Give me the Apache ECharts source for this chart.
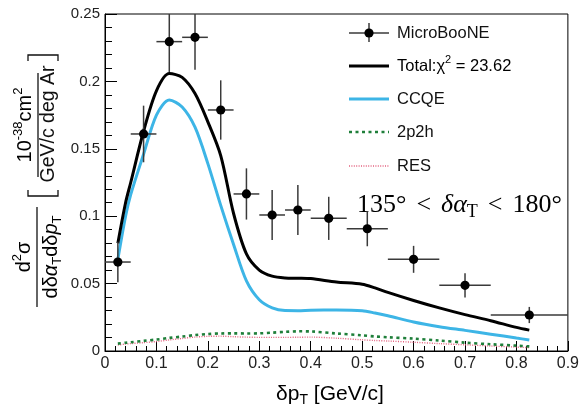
<!DOCTYPE html>
<html>
<head>
<meta charset="utf-8">
<script src="https://cdn.jsdelivr.net/npm/echarts@6/dist/echarts.min.js"></script>
<style>
html, body { margin: 0; padding: 0; background: #fff; }
#chart { width: 582px; height: 410px; }
</style>
</head>
<body>
<div id="chart"></div>
<script>
// MicroBooNE measurement: bin centre, half bin width, cross section, uncertainty
const dataX    = [0.025, 0.075, 0.125, 0.175, 0.225, 0.275, 0.325, 0.375, 0.435, 0.51, 0.60, 0.70, 0.825];
const dataXErr = [0.025, 0.025, 0.025, 0.025, 0.025, 0.025, 0.025, 0.025, 0.035, 0.04, 0.05, 0.05, 0.075];
const dataY    = [0.066, 0.161, 0.2295, 0.2327, 0.1788, 0.1165, 0.1009, 0.1046, 0.0984, 0.0907, 0.068, 0.0487, 0.0267];
const dataYErr = [0.015, 0.021, 0.0225, 0.024, 0.022, 0.019, 0.0185, 0.0185, 0.016, 0.013, 0.010, 0.009, 0.006];

// Model predictions sampled in dpT
const curveX = [0.025, 0.04, 0.05, 0.075, 0.1, 0.125, 0.15, 0.175, 0.2, 0.225, 0.25, 0.275, 0.3, 0.325, 0.35, 0.375, 0.4, 0.45, 0.5, 0.525, 0.55, 0.6, 0.65, 0.7, 0.75, 0.8, 0.825];
const totalY = [0.080, 0.110, 0.125, 0.163, 0.193, 0.2058, 0.203, 0.191, 0.170, 0.145, 0.102, 0.072, 0.060, 0.0555, 0.0542, 0.054, 0.0537, 0.0512, 0.0495, 0.0468, 0.0435, 0.0375, 0.032, 0.027, 0.0225, 0.0175, 0.0155];
const ccqeY  = [0.068, 0.100, 0.116, 0.146, 0.175, 0.1862, 0.181, 0.166, 0.139, 0.108, 0.079, 0.052, 0.038, 0.032, 0.0300, 0.0299, 0.0302, 0.0304, 0.0299, 0.0282, 0.0262, 0.0215, 0.018, 0.0153, 0.0125, 0.0096, 0.0082];
const mecY   = [0.0055, 0.0061, 0.0065, 0.0075, 0.0085, 0.0097, 0.0107, 0.0118, 0.0126, 0.013, 0.0131, 0.013, 0.0131, 0.0136, 0.0142, 0.0146, 0.0145, 0.013, 0.0116, 0.0108, 0.0102, 0.0092, 0.0078, 0.0062, 0.005, 0.004, 0.0034];
const resY   = [0.0045, 0.0051, 0.0055, 0.0062, 0.007, 0.0082, 0.0093, 0.0103, 0.0109, 0.011, 0.0106, 0.0103, 0.0101, 0.0101, 0.0101, 0.0102, 0.0103, 0.0095, 0.0083, 0.0078, 0.0074, 0.0065, 0.0055, 0.0046, 0.0037, 0.0029, 0.0025];

// Axis tick labels
const xTickLabels = ['0', '0.1', '0.2', '0.3', '0.4', '0.5', '0.6', '0.7', '0.8', '0.9'];
const yTickLabels = ['0', '0.05', '0.1', '0.15', '0.2', '0.25'];

// Legend entries
const legendNames = ['MicroBooNE', 'Total', 'CCQE', '2p2h', 'RES'];
const chi2 = '23.62';

const SANS = '"Liberation Sans", Arial, Helvetica, sans-serif';
const SERIF = '"Liberation Serif", "Times New Roman", serif';
const BLUE = '#3db5e6';
const GREEN = '#1f7f3a';
const PINK = '#e3617f';

const chart = echarts.init(document.getElementById('chart'), null, { renderer: 'canvas' });

const pointData = dataX.map((x, i) => [x, dataY[i], dataXErr[i], dataYErr[i]]);
const pairs = ys => curveX.map((x, i) => [x, ys[i]]);

// Data point with horizontal (bin width) and vertical (uncertainty) bars
function renderPoint(params, api) {
  const x = api.value(0), y = api.value(1), ex = api.value(2), ey = api.value(3);
  const c = api.coord([x, y]);
  const l = api.coord([x - ex, y]);
  const r = api.coord([x + ex, y]);
  const t = api.coord([x, y + ey]);
  const b = api.coord([x, y - ey]);
  const barStyle = { stroke: '#3a3a3a', lineWidth: 1.5 };
  return {
    type: 'group',
    children: [
      { type: 'line', shape: { x1: l[0], y1: l[1], x2: r[0], y2: r[1] }, style: barStyle },
      { type: 'line', shape: { x1: t[0], y1: t[1], x2: b[0], y2: b[1] }, style: barStyle },
      { type: 'circle', shape: { cx: c[0], cy: c[1], r: 4.6 }, style: { fill: '#000' } }
    ]
  };
}

const mainRich = (size) => ({
  n: { fontSize: size, lineHeight: size + 6, fontFamily: SANS, color: '#111' },
  i: { fontSize: size, lineHeight: size + 6, fontFamily: SANS, fontStyle: 'italic', color: '#111' },
  sup: { fontSize: Math.round(size * 0.65), lineHeight: Math.round(size * 0.65), verticalAlign: 'top', fontFamily: SANS, color: '#111' },
  sub: { fontSize: Math.round(size * 0.65), lineHeight: Math.round(size * 0.65), verticalAlign: 'bottom', fontFamily: SANS, color: '#111' }
});

// Legend drawn as graphic items
const legendX0 = 349, legendX1 = 389, legendTextX = 397;
const legendRows = [33, 66, 99, 132, 166];
const LEG_FONT = '16.5px ' + SANS;
const legendGraphics = [
  { type: 'line', shape: { x1: legendX0, y1: legendRows[0], x2: legendX1, y2: legendRows[0] }, style: { stroke: '#3a3a3a', lineWidth: 1.5 } },
  { type: 'line', shape: { x1: 369, y1: legendRows[0] - 10, x2: 369, y2: legendRows[0] + 9 }, style: { stroke: '#3a3a3a', lineWidth: 1.5 } },
  { type: 'circle', shape: { cx: 369, cy: legendRows[0], r: 4.6 }, style: { fill: '#000' } },
  { type: 'line', shape: { x1: legendX0, y1: legendRows[1], x2: legendX1, y2: legendRows[1] }, style: { stroke: '#000', lineWidth: 3 } },
  { type: 'line', shape: { x1: legendX0, y1: legendRows[2], x2: legendX1, y2: legendRows[2] }, style: { stroke: BLUE, lineWidth: 3 } },
  { type: 'line', shape: { x1: legendX0, y1: legendRows[3], x2: legendX1, y2: legendRows[3] }, style: { stroke: GREEN, lineWidth: 2.6, lineDash: [3, 3.5] } },
  { type: 'line', shape: { x1: legendX0, y1: legendRows[4], x2: legendX1, y2: legendRows[4] }, style: { stroke: PINK, lineWidth: 1.4, lineDash: [1, 1.4] } },
  { type: 'text', x: legendTextX, y: legendRows[0], style: { text: legendNames[0], font: LEG_FONT, fill: '#111', verticalAlign: 'middle' } },
  { type: 'text', x: legendTextX, y: legendRows[1], style: { text: '{n|' + legendNames[1] + ':χ}{sup|2}{n| = ' + chi2 + '}', rich: mainRich(16.5), verticalAlign: 'middle' } },
  { type: 'text', x: legendTextX, y: legendRows[2], style: { text: legendNames[2], font: LEG_FONT, fill: '#111', verticalAlign: 'middle' } },
  { type: 'text', x: legendTextX, y: legendRows[3], style: { text: legendNames[3], font: LEG_FONT, fill: '#111', verticalAlign: 'middle' } },
  { type: 'text', x: legendTextX, y: legendRows[4], style: { text: legendNames[4], font: LEG_FONT, fill: '#111', verticalAlign: 'middle' } }
];

// Y axis title: fraction d2sigma / (d dalphaT d dpT) and unit bracket, read bottom to top
const ROT = Math.PI / 2;
const yTitleGraphics = [
  { type: 'text', x: 24, y: 257, rotation: ROT, style: { text: '{n|d}{sup|2}{n|σ}', rich: mainRich(20), align: 'center', verticalAlign: 'middle' } },
  { type: 'line', shape: { x1: 37, y1: 207, x2: 37, y2: 307 }, style: { stroke: '#111', lineWidth: 1.3 } },
  { type: 'text', x: 51, y: 257, rotation: ROT, style: { text: '{n|dδ}{i|α}{sub|T}{n|dδ}{i|p}{sub|T}', rich: mainRich(20), align: 'center', verticalAlign: 'middle' } },
  { type: 'polyline', shape: { points: [[28, 190], [28, 196], [58, 196], [58, 190]] }, style: { stroke: '#111', lineWidth: 1.3, fill: null } },
  { type: 'polyline', shape: { points: [[28, 61], [28, 55], [58, 55], [58, 61]] }, style: { stroke: '#111', lineWidth: 1.3, fill: null } },
  { type: 'text', x: 25, y: 125, rotation: ROT, style: { text: '{n|10}{sup|-38}{n|cm}{sup|2}', rich: mainRich(20), align: 'center', verticalAlign: 'middle' } },
  { type: 'line', shape: { x1: 38, y1: 73, x2: 38, y2: 177 }, style: { stroke: '#111', lineWidth: 1.3 } },
  { type: 'text', x: 49, y: 124, rotation: ROT, style: { text: 'GeV/c deg Ar', font: '19.5px ' + SANS, fill: '#111', align: 'center', verticalAlign: 'middle' } }
];

// X axis title and angular region annotation
const otherGraphics = [
  { type: 'text', x: 330, y: 394, style: { text: '{n|δp}{sub|T}{n| [GeV/c]}', rich: mainRich(21), align: 'center', verticalAlign: 'middle' } },
  { type: 'text', x: 357, y: 205, style: {
      text: '{a|135°}{o|<}{i|δα}{s|T}{o|<}{a|180°}',
      rich: {
        a: { fontSize: 26, lineHeight: 32, fontFamily: SERIF, color: '#111' },
        o: { fontSize: 26, lineHeight: 32, fontFamily: SERIF, color: '#111', padding: [0, 10] },
        i: { fontSize: 26, lineHeight: 32, fontFamily: SERIF, fontStyle: 'italic', color: '#111' },
        s: { fontSize: 18, lineHeight: 18, fontFamily: SERIF, color: '#111', verticalAlign: 'bottom' }
      },
      verticalAlign: 'middle'
  } }
];

const option = {
  animation: false,
  backgroundColor: '#fff',
  grid: { left: 105, right: 7, top: 14, bottom: 59, show: true, borderColor: '#000', borderWidth: 1, containLabel: false },
  xAxis: {
    type: 'value', min: 0, max: 0.9, interval: 0.1,
    axisLine: { show: true, lineStyle: { color: '#000', width: 1 } },
    axisTick: { show: true, inside: true, length: 10, lineStyle: { color: '#000' } },
    minorTick: { show: true, splitNumber: 5, length: 5, lineStyle: { color: '#000' } },
    splitLine: { show: false },
    axisLabel: {
      fontSize: 16, fontFamily: SANS, color: '#222', margin: 5, showMinLabel: true, showMaxLabel: true,
      formatter: v => xTickLabels[Math.round(v * 10)]
    }
  },
  yAxis: {
    type: 'value', min: 0, max: 0.25, interval: 0.05,
    axisLine: { show: true, lineStyle: { color: '#000', width: 1 } },
    axisTick: { show: true, inside: true, length: 12, lineStyle: { color: '#000' } },
    minorTick: { show: true, splitNumber: 5, length: 7, lineStyle: { color: '#000' } },
    splitLine: { show: false },
    axisLabel: {
      fontSize: 15, fontFamily: SANS, color: '#222', margin: 5, showMinLabel: true, showMaxLabel: true,
      formatter: v => yTickLabels[Math.round(v * 20)]
    }
  },
  series: [
    { name: 'RES', type: 'line', data: pairs(resY), showSymbol: false, smooth: 0.3, clip: true,
      lineStyle: { color: PINK, width: 1.4, type: [1, 1.4] } },
    { name: '2p2h', type: 'line', data: pairs(mecY), showSymbol: false, smooth: 0.3, clip: true,
      lineStyle: { color: GREEN, width: 2.6, type: [3, 3.5] } },
    { name: 'CCQE', type: 'line', data: pairs(ccqeY), showSymbol: false, smooth: 0.3, clip: true,
      lineStyle: { color: BLUE, width: 3 } },
    { name: 'Total', type: 'line', data: pairs(totalY), showSymbol: false, smooth: 0.3, clip: true,
      lineStyle: { color: '#000', width: 3 } },
    { name: 'MicroBooNE', type: 'custom', data: pointData, renderItem: renderPoint, clip: true,
      encode: { x: 0, y: 1 }, z: 10 }
  ],
  graphic: [].concat(legendGraphics, yTitleGraphics, otherGraphics)
};

chart.setOption(option);
</script>
</body>
</html>
